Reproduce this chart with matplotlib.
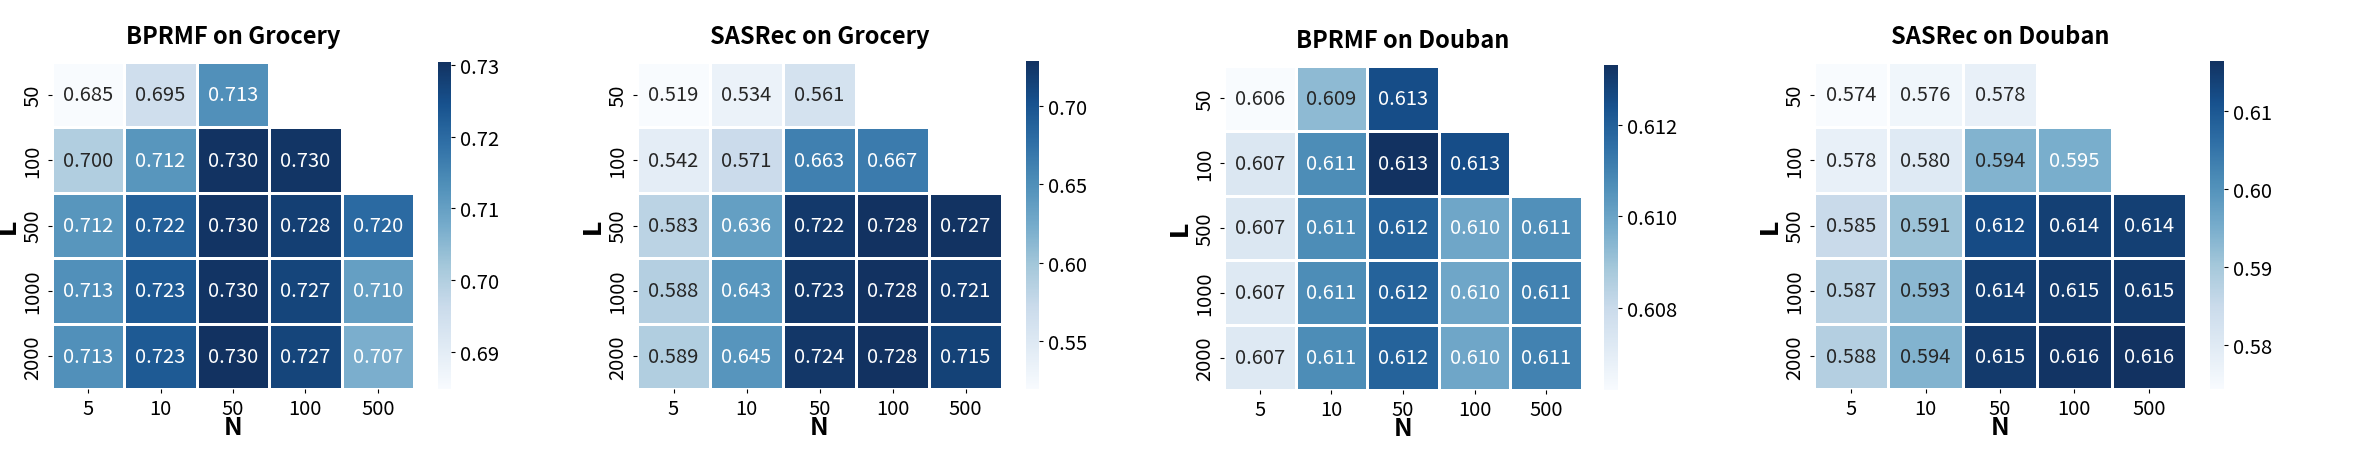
import numpy as np
import matplotlib
matplotlib.use("Agg")
import matplotlib.pyplot as plt
import seaborn as sns
from matplotlib.colors import ListedColormap
from matplotlib.ticker import MultipleLocator

plt.rcParams['font.family'] = ['Noto Sans CJK SC', 'DejaVu Sans']

N_labels = ["5", "10", "50", "100", "500"]
L_labels = ["50", "100", "500", "1000", "2000"]
nan = np.nan

titles = ["BPRMF on Grocery", "SASRec on Grocery", "BPRMF on Douban", "SASRec on Douban"]

bprmf_grocery = [
    [0.6848, 0.6950, 0.7130, nan, nan],
    [0.7000, 0.7120, 0.7302, 0.7298, nan],
    [0.7120, 0.7220, 0.7300, 0.7280, 0.7200],
    [0.7130, 0.7230, 0.7300, 0.7270, 0.7100],
    [0.7130, 0.7230, 0.7304, 0.7270, 0.7070],
]
sasrec_grocery = [
    [0.5195, 0.5340, 0.5610, nan, nan],
    [0.5420, 0.5710, 0.6630, 0.6670, nan],
    [0.5830, 0.6360, 0.7220, 0.7280, 0.7270],
    [0.5880, 0.6430, 0.7230, 0.7284, 0.7210],
    [0.5890, 0.6450, 0.7240, 0.7280, 0.7150],
]
bprmf_douban = [
    [0.6062, 0.6093, 0.6125, nan, nan],
    [0.6073, 0.6107, 0.6133, 0.6125, nan],
    [0.6073, 0.6107, 0.6119, 0.6099, 0.6106],
    [0.6072, 0.6107, 0.6119, 0.6099, 0.6110],
    [0.6072, 0.6107, 0.6119, 0.6099, 0.6110],
]
sasrec_douban = [
    [0.5743, 0.5760, 0.5780, nan, nan],
    [0.5780, 0.5800, 0.5940, 0.5950, nan],
    [0.5850, 0.5910, 0.6120, 0.6140, 0.6140],
    [0.5870, 0.5930, 0.6140, 0.6150, 0.6150],
    [0.5880, 0.5940, 0.6150, 0.6160, 0.6164],
]
datasets = [bprmf_grocery, sasrec_grocery, bprmf_douban, sasrec_douban]
cbar_steps = [0.01, 0.05, 0.002, 0.01]

# slightly desaturated Blues
base = plt.get_cmap("Blues")(np.linspace(0, 1, 256))
cmap = ListedColormap([sns.desaturate(c[:3], 0.8) for c in base])

W, H = 2370, 460
fig = plt.figure(figsize=(W / 100, H / 100), dpi=100)

# layout in pixels: (heat left, heat width, heat top, heat bottom, cbar left, cbar width, cbar top)
layout = [
    (52, 362, 63, 390, 438, 13, 63),
    (637, 365, 63, 390, 1026, 13, 62),
    (1224, 358, 67, 391, 1604, 14, 66),
    (1814, 372, 63, 390, 2210, 14, 62),
]

for data, title, step, (hl, hw, ht, hb, cl, cw, ct) in zip(datasets, titles, cbar_steps, layout):
    ax = fig.add_axes([hl / W, (H - hb) / H, hw / W, (hb - ht) / H])
    cax = fig.add_axes([cl / W, (H - hb) / H, cw / W, (hb - ct) / H])
    arr = np.array(data, dtype=float)
    sns.heatmap(arr, ax=ax, cbar_ax=cax, cmap=cmap, annot=True, fmt=".3f",
                annot_kws={"fontsize": 14.5}, linewidths=1.0, linecolor="white",
                xticklabels=N_labels, yticklabels=L_labels)
    ax.set_title(title, fontsize=17, fontweight="bold", pad=14)
    ax.set_xlabel("N", fontsize=18, fontweight="bold", labelpad=-3)
    ax.set_ylabel("L", fontsize=17, fontweight="bold", family=["DejaVu Sans"])
    ax.yaxis.set_label_coords(-32.0 / hw, 0.5)
    ax.tick_params(axis="both", labelsize=14.5, length=3)
    ax.set_yticklabels(L_labels, rotation=90, va="center")
    ax.set_xticklabels(N_labels, rotation=0)
    cax.yaxis.set_major_locator(MultipleLocator(step))
    cax.tick_params(labelsize=14.5, length=3)

fig.savefig("out.png", dpi=100)
